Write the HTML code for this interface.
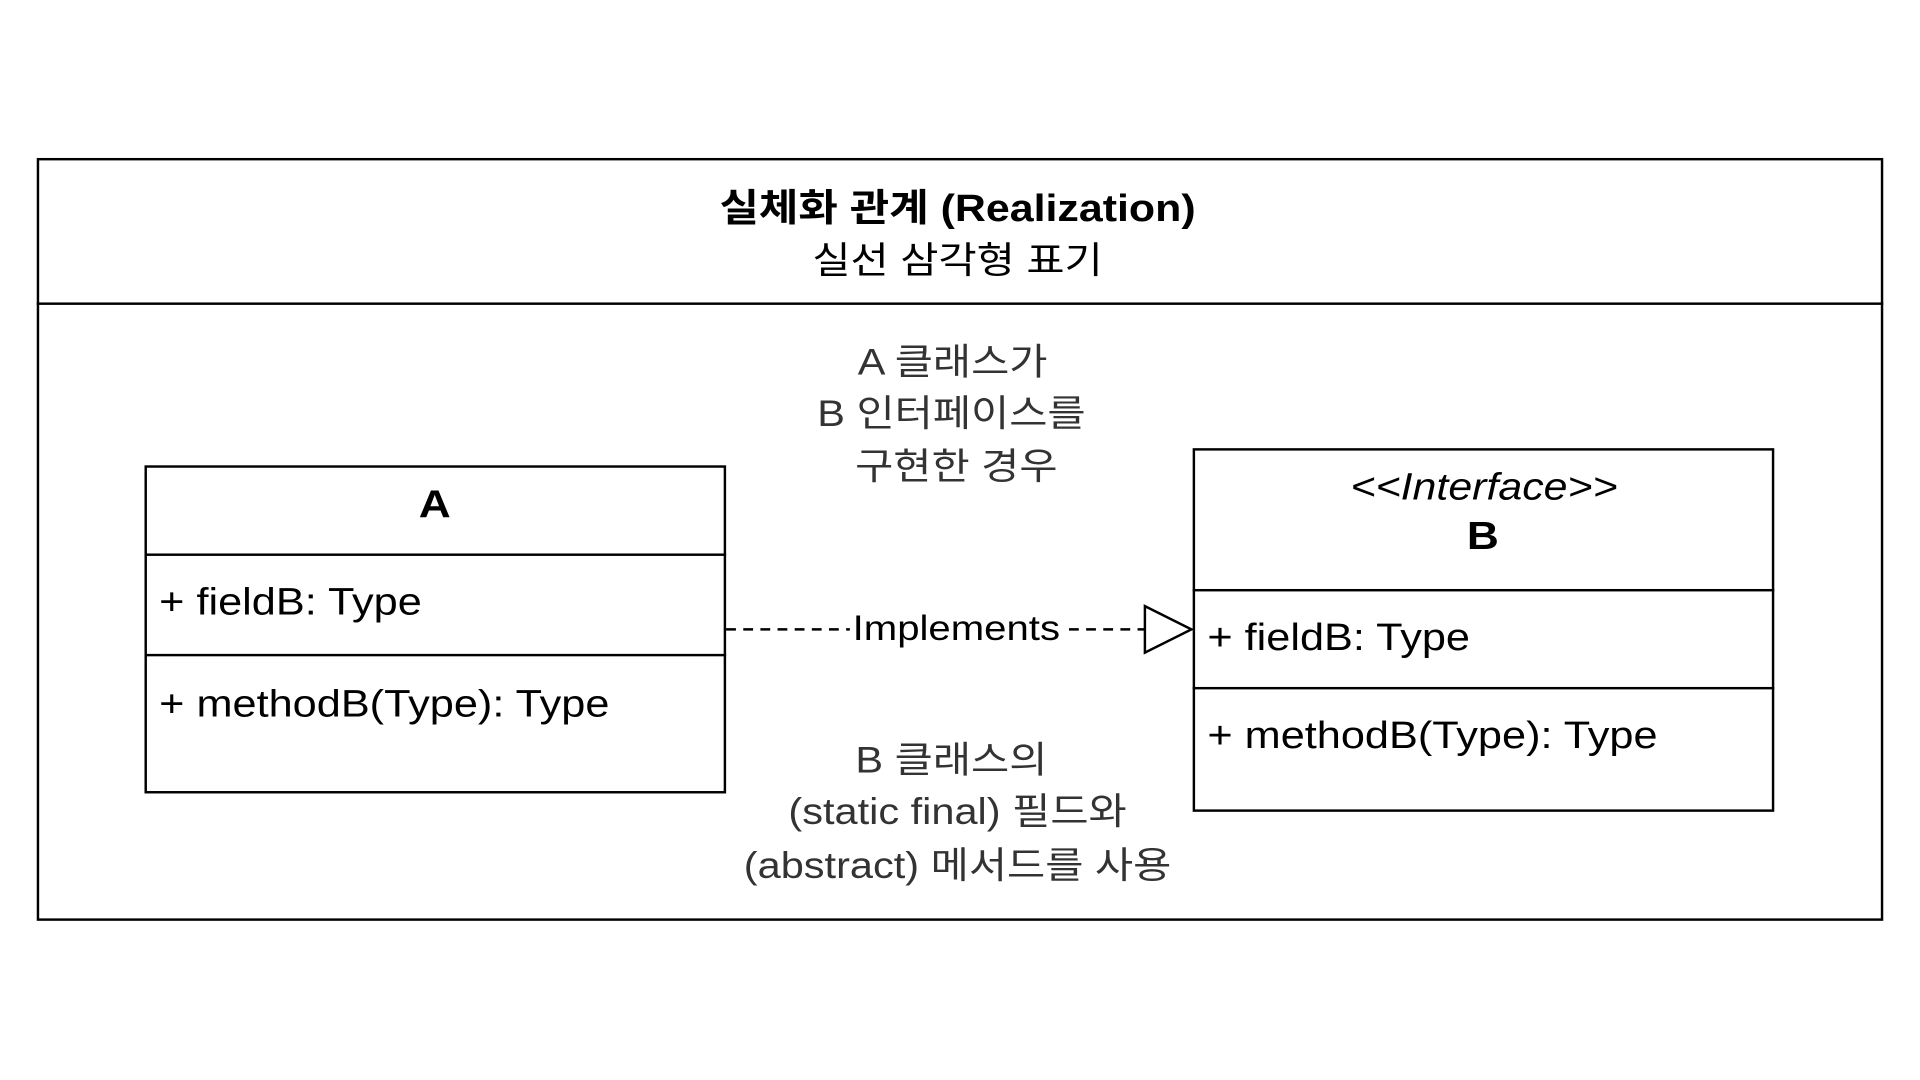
<!DOCTYPE html>
<html><head><meta charset="utf-8"><style>
html,body{margin:0;padding:0;background:#fff;width:1920px;height:1080px;overflow:hidden}
#w{position:absolute;left:0;top:0;width:1568px;height:882px;transform:scale(1.22449);transform-origin:0 0;font-family:"Liberation Sans","Noto Sans CJK KR",sans-serif}
.b{position:absolute;border:2px solid #000;box-sizing:border-box}
.h{position:absolute;height:2px;background:#000}
.t{position:absolute;white-space:nowrap;transform:translate(-50%,-50%) scaleX(1.13)}
.l{position:absolute;white-space:nowrap;transform:translateY(-50%) scaleX(1.14);transform-origin:0 50%}
</style></head><body><div id="w">
<div class="b" style="left:30px;top:129px;width:1508px;height:623px"></div>
<div class="h" style="left:30px;top:247px;width:1508px"></div>
<div class="t" style="left:782px;top:167px;font-size:31px;font-weight:bold">실체화 관계 (Realization)</div>
<div class="t" style="left:782px;top:210px;font-size:30px">실선 삼각형 표기</div>
<div class="t" style="left:778px;top:293px;font-size:30px;color:#333">A 클래스가</div>
<div class="t" style="left:777px;top:335px;font-size:30px;color:#333">B 인터페이스를</div>
<div class="t" style="left:781px;top:378px;font-size:30px;color:#333">구현한 경우</div>
<div class="t" style="left:777px;top:618px;font-size:30px;color:#333">B 클래스의</div>
<div class="t" style="left:782px;top:660px;font-size:30px;color:#333">(static final) 필드와</div>
<div class="t" style="left:782px;top:704px;font-size:30px;color:#333">(abstract) 메서드를 사용</div>

<div class="b" style="left:118px;top:380px;width:475px;height:268px"></div>
<div class="h" style="left:118px;top:452px;width:475px"></div>
<div class="h" style="left:118px;top:534px;width:475px"></div>
<div class="t" style="left:355px;top:412px;font-size:32px;font-weight:bold">A</div>
<div class="l" style="left:130px;top:492px;font-size:31px">+ fieldB: Type</div>
<div class="l" style="left:130px;top:575px;font-size:31px">+ methodB(Type): Type</div>

<div class="b" style="left:974px;top:366px;width:475px;height:297px"></div>
<div class="h" style="left:974px;top:481px;width:475px"></div>
<div class="h" style="left:974px;top:561px;width:475px"></div>
<div class="t" style="left:1212px;top:398px;font-size:31px;font-style:italic">&lt;&lt;Interface&gt;&gt;</div>
<div class="t" style="left:1211px;top:438px;font-size:32px;font-weight:bold">B</div>
<div class="l" style="left:986px;top:521px;font-size:31px">+ fieldB: Type</div>
<div class="l" style="left:986px;top:601px;font-size:31px">+ methodB(Type): Type</div>

<svg style="position:absolute;left:0;top:0" width="1568" height="882">
<line x1="593" y1="514" x2="935" y2="514" stroke="#000" stroke-width="2" stroke-dasharray="8 6"/>
<polygon points="935,495 973,514 935,533" fill="#fff" stroke="#000" stroke-width="2"/>
</svg>
<div class="t" style="left:781px;top:514px;font-size:29px;background:#fff;padding:0 2px">Implements</div>
</div></body></html>
